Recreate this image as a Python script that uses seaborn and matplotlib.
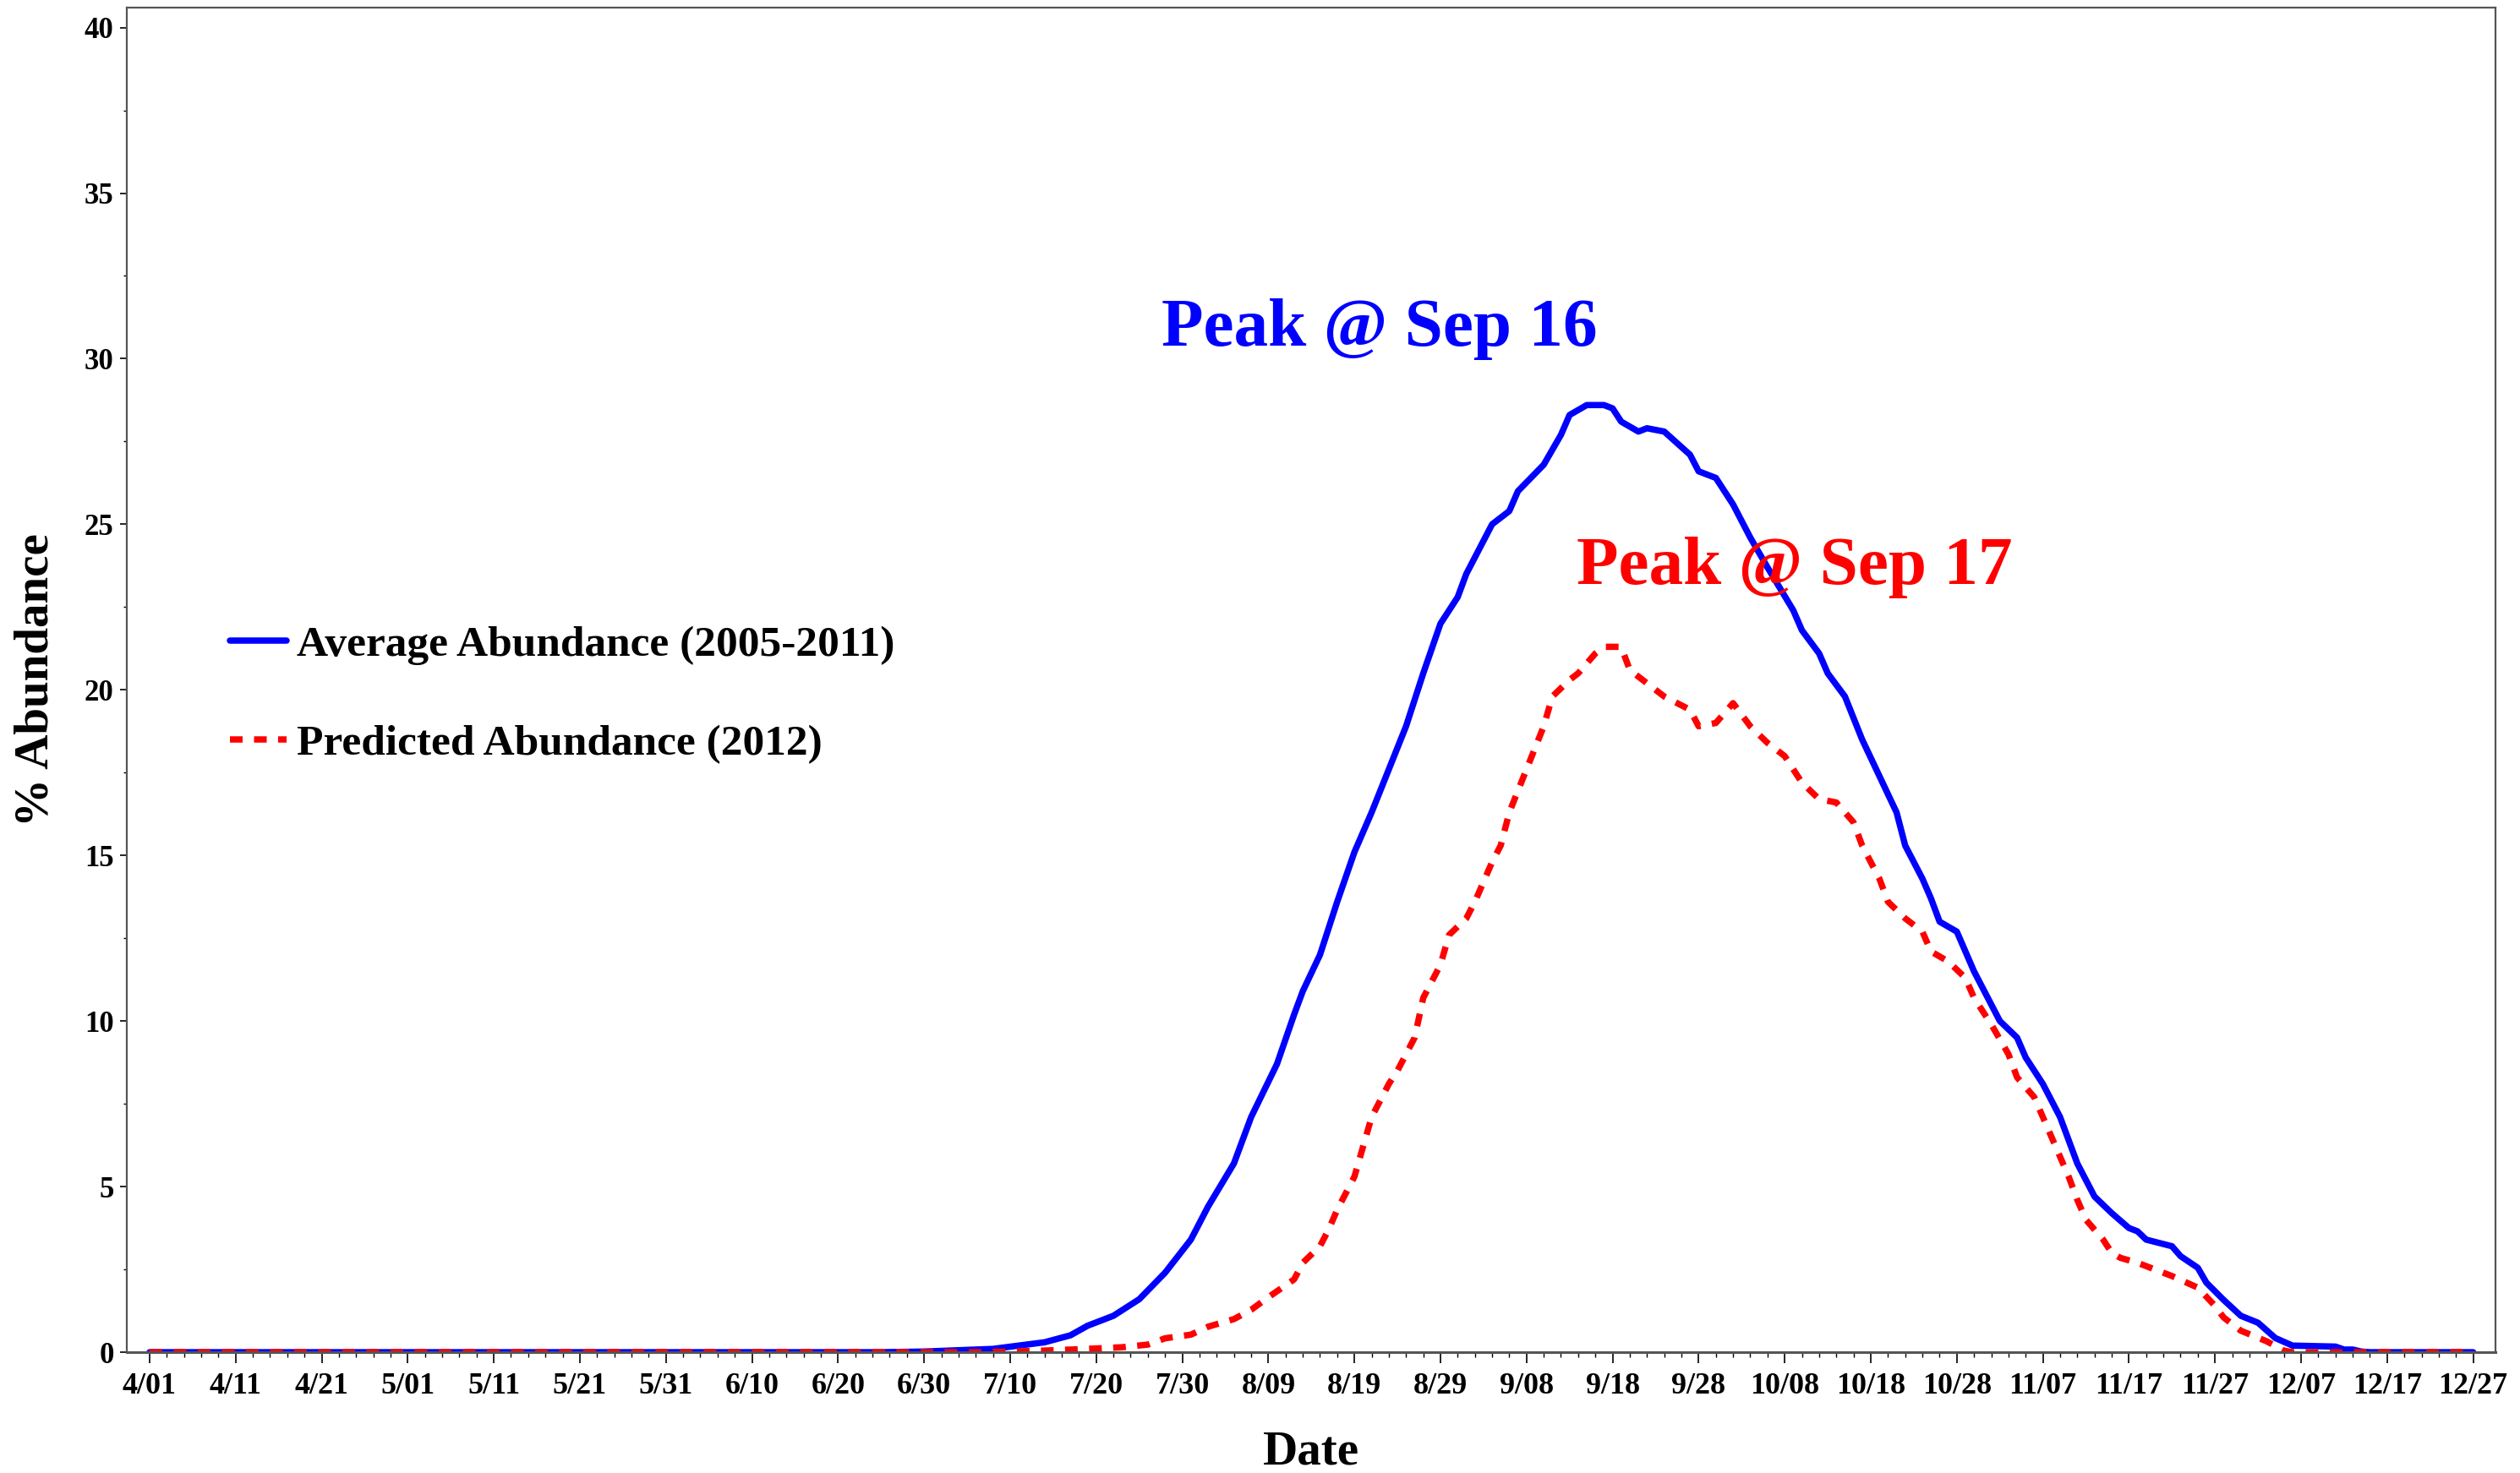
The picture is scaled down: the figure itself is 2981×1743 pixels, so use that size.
import numpy as np
import pandas as pd
import matplotlib
matplotlib.use("Agg")
import matplotlib.pyplot as plt
import matplotlib.dates as mdates
from matplotlib.ticker import FixedLocator
import seaborn as sns

# ------------------------
# DATA (days after Apr 1, % abundance)
# ------------------------

avg_days = [0, 85, 90, 95, 98, 104, 107, 109, 112, 115, 118, 121, 123, 126, 128, 131,
            133, 134, 136, 138, 140, 142, 144, 146, 148, 150, 152, 153, 156, 158, 159, 162,
            164, 165, 167, 169, 170, 171, 173, 174, 176, 179, 180, 182, 184, 186, 188, 191,
            192, 194, 195, 197, 199, 201, 203, 204, 206, 207, 208, 210, 211, 212, 214, 215,
            217, 218, 220, 222, 224, 225, 226, 228, 230, 231, 232, 235, 236, 238, 239, 241,
            243, 245, 247, 249, 254, 255, 256, 257, 258, 270]
avg_vals = [0, 0, 0.02, 0.07, 0.1, 0.3, 0.51, 0.8, 1.1, 1.6, 2.4, 3.4, 4.4, 5.7, 7.1, 8.7,
            10.2, 10.9, 12.0, 13.6, 15.1, 16.3, 17.6, 18.9, 20.5, 22.0, 22.8, 23.5,
            25.0, 25.4, 26.0, 26.8, 27.7, 28.3, 28.6, 28.6, 28.5, 28.1, 27.8, 27.9, 27.8,
            27.1, 26.6, 26.4, 25.6, 24.6, 23.7, 22.4, 21.8, 21.1, 20.5, 19.8, 18.5, 17.4,
            16.3, 15.3, 14.3, 13.7, 13.0, 12.7, 12.1, 11.5, 10.5, 10.0, 9.5, 8.9, 8.1, 7.1,
            5.7, 5.2, 4.7, 4.2, 3.75, 3.65, 3.4, 3.2, 2.9, 2.55, 2.1, 1.58, 1.1, 0.89, 0.43,
            0.2, 0.17, 0.08, 0.08, 0.02, 0, 0]

pred_days = [0, 97, 103, 108, 113, 116, 118, 121, 123, 126, 128, 130, 133, 134, 136, 137,
             138, 140, 141, 142, 144, 145, 147, 148, 150, 151, 153, 154, 156, 157, 158, 160,
             162, 163, 165, 166, 168, 169, 171, 172, 174, 176, 179, 180, 182, 184, 186, 188,
             190, 192, 194, 196, 198, 199, 201, 202, 204, 206, 207, 209, 211, 212, 214, 216,
             217, 219, 220, 221, 222, 223, 224, 225, 227, 228, 229, 231, 233, 235, 238, 240,
             241, 243, 246, 248, 249, 270]
pred_vals = [0, 0, 0.04, 0.09, 0.15, 0.23, 0.42, 0.53, 0.77, 1.0, 1.28, 1.66, 2.2, 2.7,
             3.2, 3.7, 4.3, 5.3, 6.2, 7.1, 8.1, 8.5, 9.5, 10.7, 11.7, 12.6, 13.1, 13.6, 14.8,
             15.3, 16.3, 17.6, 18.9, 19.8, 20.3, 20.5, 21.1, 21.3, 21.3, 20.6, 20.2, 19.8,
             19.4, 18.9, 19.0, 19.6, 18.9, 18.4, 18.0, 17.2, 16.7, 16.6, 16.0, 15.3, 14.3,
             13.6, 13.1, 12.7, 12.1, 11.8, 11.3, 10.7, 9.9, 9.0, 8.3, 7.7, 7.1, 6.5, 5.9,
             5.3, 4.6, 4.0, 3.4, 3.0, 2.85, 2.7, 2.5, 2.3, 1.95, 1.4, 1.05, 0.65, 0.33, 0.05,
             0, 0]

avg_label = "Average Abundance (2005-2011)"
pred_label = "Predicted Abundance (2012)"
avg_peak_text = "Peak @ Sep 16"
pred_peak_text = "Peak @ Sep 17"

season_start = pd.Timestamp("2012-04-01")
season_end = pd.Timestamp("2012-12-27")
y_ticks = [0, 5, 10, 15, 20, 25, 30, 35, 40]


def to_dates(days):
    return season_start + pd.to_timedelta(days, unit="D")


# ------------------------
# STYLE
# ------------------------

sns.set_theme(style="ticks")
plt.rcParams["font.family"] = ["Liberation Serif", "DejaVu Serif"]
plt.rcParams["font.weight"] = "bold"
plt.rcParams["axes.labelweight"] = "bold"
plt.rcParams["text.color"] = "black"
plt.rcParams["axes.labelcolor"] = "black"

fig = plt.figure(figsize=(29.81, 17.43), dpi=100)
ax = fig.add_axes([0.0503, 0.0820, 0.9400, 0.9128])

sns.lineplot(x=to_dates(avg_days), y=avg_vals, ax=ax, color="#0000FF",
             linewidth=5.4, label=avg_label, solid_joinstyle="round")
sns.lineplot(x=to_dates(pred_days), y=pred_vals, ax=ax, color="#FF0000",
             linewidth=5.4, label=pred_label, linestyle=(0, (2.0, 1.8)))

# axes range
ax.set_xlim(season_start - pd.Timedelta(days=2.65), season_start + pd.Timedelta(days=272.6))
ax.set_ylim(0, 40.6)

major = pd.date_range(season_start, season_end, freq="10D")
minor = pd.date_range(season_start, season_end, freq="2D")
ax.xaxis.set_major_locator(FixedLocator(mdates.date2num(major)))
ax.xaxis.set_minor_locator(FixedLocator(mdates.date2num(minor)))
ax.set_xticklabels([f"{d.month}/{d.day:02d}" for d in major])

ax.set_yticks(y_ticks)
ax.set_yticks(np.arange(2.5, 40, 5), minor=True)

ax.tick_params(axis="x", which="major", length=9, width=1.2, colors="black",
               labelsize=26, pad=8)
ax.tick_params(axis="x", which="minor", length=4, width=1.0, colors="black")
ax.tick_params(axis="y", which="major", length=6, width=1.2, colors="black",
               labelsize=25, pad=5)
ax.tick_params(axis="y", which="minor", length=3, width=1.0, colors="black")

for s in ax.spines.values():
    s.set_color("#555555")
    s.set_linewidth(1.6)
ax.spines["bottom"].set_linewidth(2.2)

ax.set_xlabel("Date", fontsize=41, fontweight="bold")
ax.set_ylabel("% Abundance", fontsize=41, fontweight="bold")
ax.xaxis.set_label_coords(0.5, -0.058)
ax.yaxis.set_label_coords(-0.029, 0.5)

# peak annotations
ax.text(season_start + pd.Timedelta(days=117.6), 30.4, avg_peak_text, color="#0000FF",
        fontsize=58.5, fontweight="bold", va="baseline", ha="left")
ax.text(season_start + pd.Timedelta(days=165.8), 23.2, pred_peak_text, color="#FF0000",
        fontsize=58.5, fontweight="bold", va="baseline", ha="left")

ax.legend(loc="center left", bbox_to_anchor=(0.0435, 0.489), frameon=False,
          prop={"size": 37, "weight": "bold"}, handlelength=1.3, handletextpad=0.24,
          labelspacing=1.35, borderpad=0, borderaxespad=0, labelcolor="black")

fig.savefig("out.png", dpi=100)
